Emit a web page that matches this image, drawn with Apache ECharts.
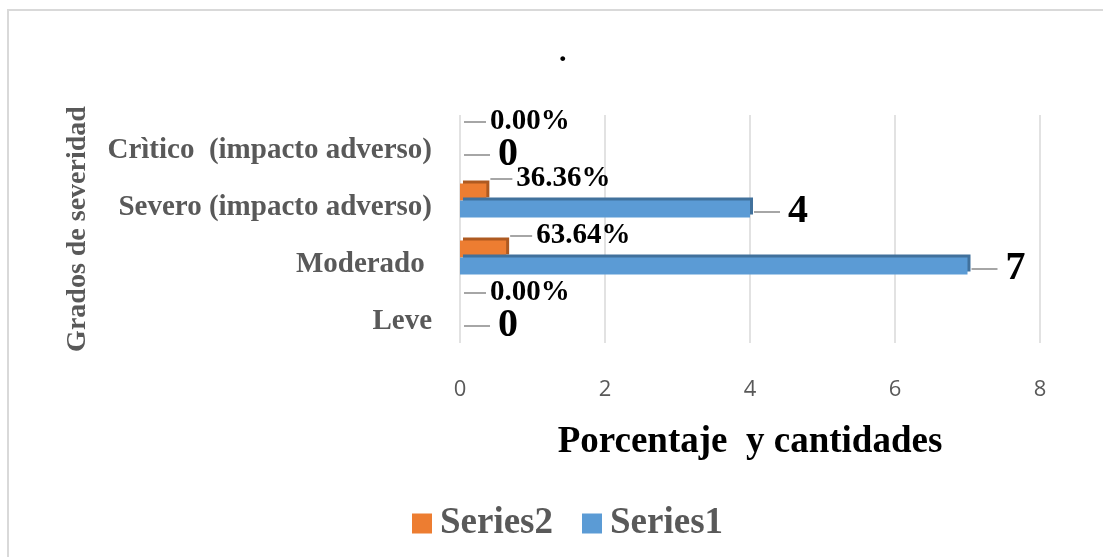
<!DOCTYPE html>
<html>
<head>
<meta charset="utf-8">
<script src="https://cdn.jsdelivr.net/npm/echarts@6/dist/echarts.min.js"></script>
<style>
  html, body { margin: 0; padding: 0; background: #fff; }
  #chart { width: 1103px; height: 557px; }
</style>
</head>
<body>
<div id="chart"></div>
<script>
// categories bottom -> top
var categories = ['Leve', 'Moderado ', 'Severo (impacto adverso)', 'Crìtico  (impacto adverso)'];
var series1 = [0, 7, 4, 0];            // cantidades
var series2 = [0, 0.6364, 0.3636, 0];  // porcentajes
var xTicks = [0, 2, 4, 6, 8];

var serif = '"Liberation Serif", "Times New Roman", serif';
var grey = '#595959';

var chart = echarts.init(document.getElementById('chart'));

var option = {
  animation: false,
  title: {
    text: '.',
    left: 554,
    top: 33,
    textStyle: { fontFamily: serif, fontSize: 30, fontWeight: 'bold', color: '#000' }
  },
  graphic: [{
    type: 'rect',
    shape: { x: 8, y: 10, width: 1200, height: 600 },
    style: { fill: 'none', stroke: '#d9d9d9', lineWidth: 2 },
    silent: true
  }],
  legend: {
    data: ['Series2', 'Series1'],
    bottom: 10,
    left: 407,
    itemWidth: 20,
    itemHeight: 20,
    itemGap: 29,
    icon: 'rect',
    textStyle: { fontFamily: serif, fontSize: 37, fontWeight: 'bold', color: grey, padding: [0, 0, 0, 3] }
  },
  grid: { left: 460, right: 63, top: 115, bottom: 214 },
  xAxis: {
    type: 'value',
    min: xTicks[0],
    max: xTicks[xTicks.length - 1],
    interval: 2,
    name: 'Porcentaje  y cantidades',
    nameLocation: 'middle',
    nameGap: 81,
    nameTextStyle: { fontFamily: serif, fontSize: 37, fontWeight: 'bold', color: '#000' },
    axisLine: { show: false },
    axisTick: { show: false },
    axisLabel: { margin: 36, fontFamily: '"Open Sans", sans-serif', fontSize: 22, color: grey },
    splitLine: { lineStyle: { color: '#d9d9d9', width: 1.5 } }
  },
  yAxis: {
    type: 'category',
    data: categories,
    name: 'Grados de severidad',
    nameLocation: 'middle',
    nameGap: 368,
    nameRotate: 90,
    nameTextStyle: { fontFamily: serif, fontSize: 28, fontWeight: 'bold', color: grey },
    axisLine: { show: false },
    axisTick: { show: false },
    axisLabel: { margin: 28, verticalAlign: 'top', lineHeight: 14, fontFamily: serif, fontSize: 29, fontWeight: 'bold', color: grey }
  },
  series: [
    {
      name: 'Series2',
      type: 'bar',
      data: series2,
      barWidth: 17,
      barGap: '0%',
      itemStyle: { color: '#ed7d31', shadowColor: '#ae5a21', shadowOffsetX: 3, shadowOffsetY: -3, shadowBlur: 0 },
      label: {
        show: true,
        position: 'right',
        distance: 4,
        formatter: function (p) { return '{l|}{v|' + (p.value * 100).toFixed(2) + '%}'; },
        rich: {
          l: { width: 22, height: 2, backgroundColor: '#a6a6a6' },
          v: { fontFamily: serif, fontSize: 29, fontWeight: 'bold', color: '#000', padding: [0, 0, 0, 4] }
        }
      },
      labelLayout: { dy: -13 }
    },
    {
      name: 'Series1',
      type: 'bar',
      data: series1,
      barWidth: 17,
      barGap: '0%',
      itemStyle: { color: '#5b9bd5', shadowColor: '#41719c', shadowOffsetX: 3, shadowOffsetY: -3, shadowBlur: 0 },
      label: {
        show: true,
        position: 'right',
        distance: 4,
        formatter: '{l|}{v|{c}}',
        rich: {
          l: { width: 26, height: 2, backgroundColor: '#a6a6a6' },
          v: { fontFamily: serif, fontSize: 40, fontWeight: 'bold', color: '#000', padding: [0, 0, 0, 8] }
        }
      },
      labelLayout: { dy: 3 }
    }
  ]
};

chart.setOption(option);
</script>
</body>
</html>
